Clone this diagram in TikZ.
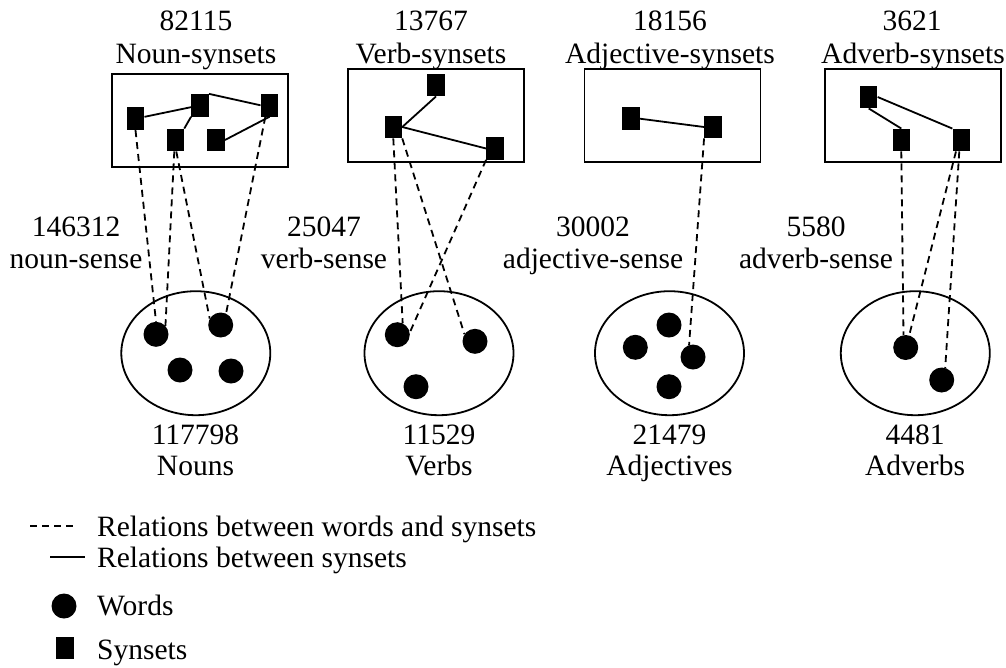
\documentclass[tikz,border=0pt]{standalone}
\usepackage{fontspec}
\setmainfont{Liberation Serif}
\usetikzlibrary{shapes.geometric}
\begin{document}
\begin{tikzpicture}[x=1pt,y=-1pt,
  lbl/.style={font=\fontsize{29.5}{33}\selectfont, anchor=base, inner sep=0pt},
  lgd/.style={font=\fontsize{29.5}{33}\selectfont, anchor=base west, inner sep=0pt},
  synbox/.style={draw, rectangle, line width=1.8pt, inner sep=0pt, minimum width=176pt, minimum height=93pt},
  syn/.style={fill=black, rectangle, inner sep=0pt, minimum width=17.5pt, minimum height=22.5pt},
  wrd/.style={fill=black, circle, inner sep=0pt, minimum size=25pt},
  wordset/.style={draw, ellipse, line width=1.8pt, inner sep=0pt, minimum width=149pt, minimum height=124pt},
  rel/.style={line width=1.8pt},
  sense/.style={line width=1.8pt, dash pattern=on 7pt off 5pt}]
\useasboundingbox[fill=white] (0,0) rectangle (1006,667);

% synset boxes
\node[synbox] (nbox) at (200,120.5) {};
\node[synbox] (vbox) at (436,115.7) {};
\node[synbox] (abox) at (672.5,115.7) {};
\node[synbox] (rbox) at (913,115.7) {};

% word ellipses
\node[wordset] (nset) at (195.8,353.2) {};
\node[wordset] (vset) at (439,353.2) {};
\node[wordset] (aset) at (669.5,353.2) {};
\node[wordset] (rset) at (915.3,353.2) {};

% synsets
\node[syn] (ns1) at (135.5,118.7) {};
\node[syn] (ns2) at (200,105.3) {};
\node[syn] (ns3) at (269.5,105.3) {};
\node[syn] (ns4) at (175.3,140) {};
\node[syn] (ns5) at (216,140) {};
\node[syn] (vs1) at (436,85) {};
\node[syn] (vs2) at (393.3,127) {};
\node[syn] (vs3) at (495,148.5) {};
\node[syn] (as1) at (631,118.7) {};
\node[syn] (as2) at (713,127) {};
\node[syn] (rs1) at (868.7,97) {};
\node[syn] (rs2) at (901.3,140) {};
\node[syn] (rs3) at (961.3,140) {};

% words
\node[wrd] (nw1) at (156,334.3) {};
\node[wrd] (nw2) at (220.7,325) {};
\node[wrd] (nw3) at (180,370) {};
\node[wrd] (nw4) at (231,371) {};
\node[wrd] (vw1) at (397.3,334.7) {};
\node[wrd] (vw2) at (475,341.3) {};
\node[wrd] (vw3) at (416,386.7) {};
\node[wrd] (aw1) at (669,325) {};
\node[wrd] (aw2) at (635.3,347.3) {};
\node[wrd] (aw3) at (693,357) {};
\node[wrd] (aw4) at (669,386.7) {};
\node[wrd] (rw1) at (905.7,347.5) {};
\node[wrd] (rw2) at (941.7,380) {};

% relations between synsets
\draw[rel] (ns1) -- (ns2);
\draw[rel] (ns2.north east) -- (ns3.west);
\draw[rel] (ns4.north east) -- (ns2.south west);
\draw[rel] (ns5.east) -- (ns3.south);
\draw[rel] (vs2.east) -- (vs1.south);
\draw[rel] (vs2.east) -- (vs3.west);
\draw[rel] (as1.east) -- (as2.west);
\draw[rel] (rs1.south) -- (rs2.north);
\draw[rel] (rs1.east) -- (rs3.north west);

% relations between words and synsets
\draw[sense] (ns1.south) -- (nw1.north);
\draw[sense] (ns4.265) -- (nw1.42);
\draw[sense] (ns4.275) -- (nw2.150);
\draw[sense] (ns3.250) -- (nw2.65);
\draw[sense] (vs2.south) -- (vw1.65);
\draw[sense] (vs2.south east) -- (vw2.146);
\draw[sense] (vs3.south west) -- (vw1.10);
\draw[sense] (as2.south west) -- (aw3.108);
\draw[sense] (rs2.south) -- (rw1.100);
\draw[sense] (rs3.245) -- (rw1.74);
\draw[sense] (rs3.260) -- (rw2.74);

% top labels
\node[lbl] (nsn) at (196,30) {82115};
\node[lbl] (nst) at (196,63) {Noun-synsets};
\node[lbl] (vsn) at (431,30) {13767};
\node[lbl] (vst) at (431,63) {Verb-synsets};
\node[lbl] (asn) at (670,30) {18156};
\node[lbl] (ast) at (670,63) {Adjective-synsets};
\node[lbl] (rsn) at (912,30) {3621};
\node[lbl] (rst) at (913,63) {Adverb-synsets};

% sense labels
\node[lbl] (nen) at (76,236) {146312};
\node[lbl] (net) at (76,268) {noun-sense};
\node[lbl] (ven) at (324,236) {25047};
\node[lbl] (vet) at (324,268) {verb-sense};
\node[lbl] (aen) at (593,236) {30002};
\node[lbl] (aet) at (593,268) {adjective-sense};
\node[lbl] (ren) at (816,236) {5580};
\node[lbl] (ret) at (816,268) {adverb-sense};

% bottom labels
\node[lbl] (nwn) at (195.5,444) {117798};
\node[lbl] (nwt) at (195.5,475) {Nouns};
\node[lbl] (vwn) at (439,444) {11529};
\node[lbl] (vwt) at (439,475) {Verbs};
\node[lbl] (awn) at (669.5,444) {21479};
\node[lbl] (awt) at (669.5,475) {Adjectives};
\node[lbl] (rwn) at (915,444) {4481};
\node[lbl] (rwt) at (915,475) {Adverbs};

% legend
\coordinate (ld1) at (30,526);
\coordinate (ld2) at (74,526);
\draw[sense, line width=1.4pt, dash pattern=on 7pt off 5pt] (ld1) -- (ld2);
\node[lgd] (lt1) at (97,536) {Relations between words and synsets};
\coordinate (ls1) at (50,557);
\coordinate (ls2) at (85,557);
\draw[rel, line width=1.4pt] (ls1) -- (ls2);
\node[lgd] (lt2) at (97,567) {Relations between synsets};
\node[wrd] (lw) at (64,606) {};
\node[lgd] (lt3) at (97,615) {Words};
\node[syn] (lq) at (65,648) {};
\node[lgd] (lt4) at (97,659) {Synsets};
\end{tikzpicture}
\end{document}
